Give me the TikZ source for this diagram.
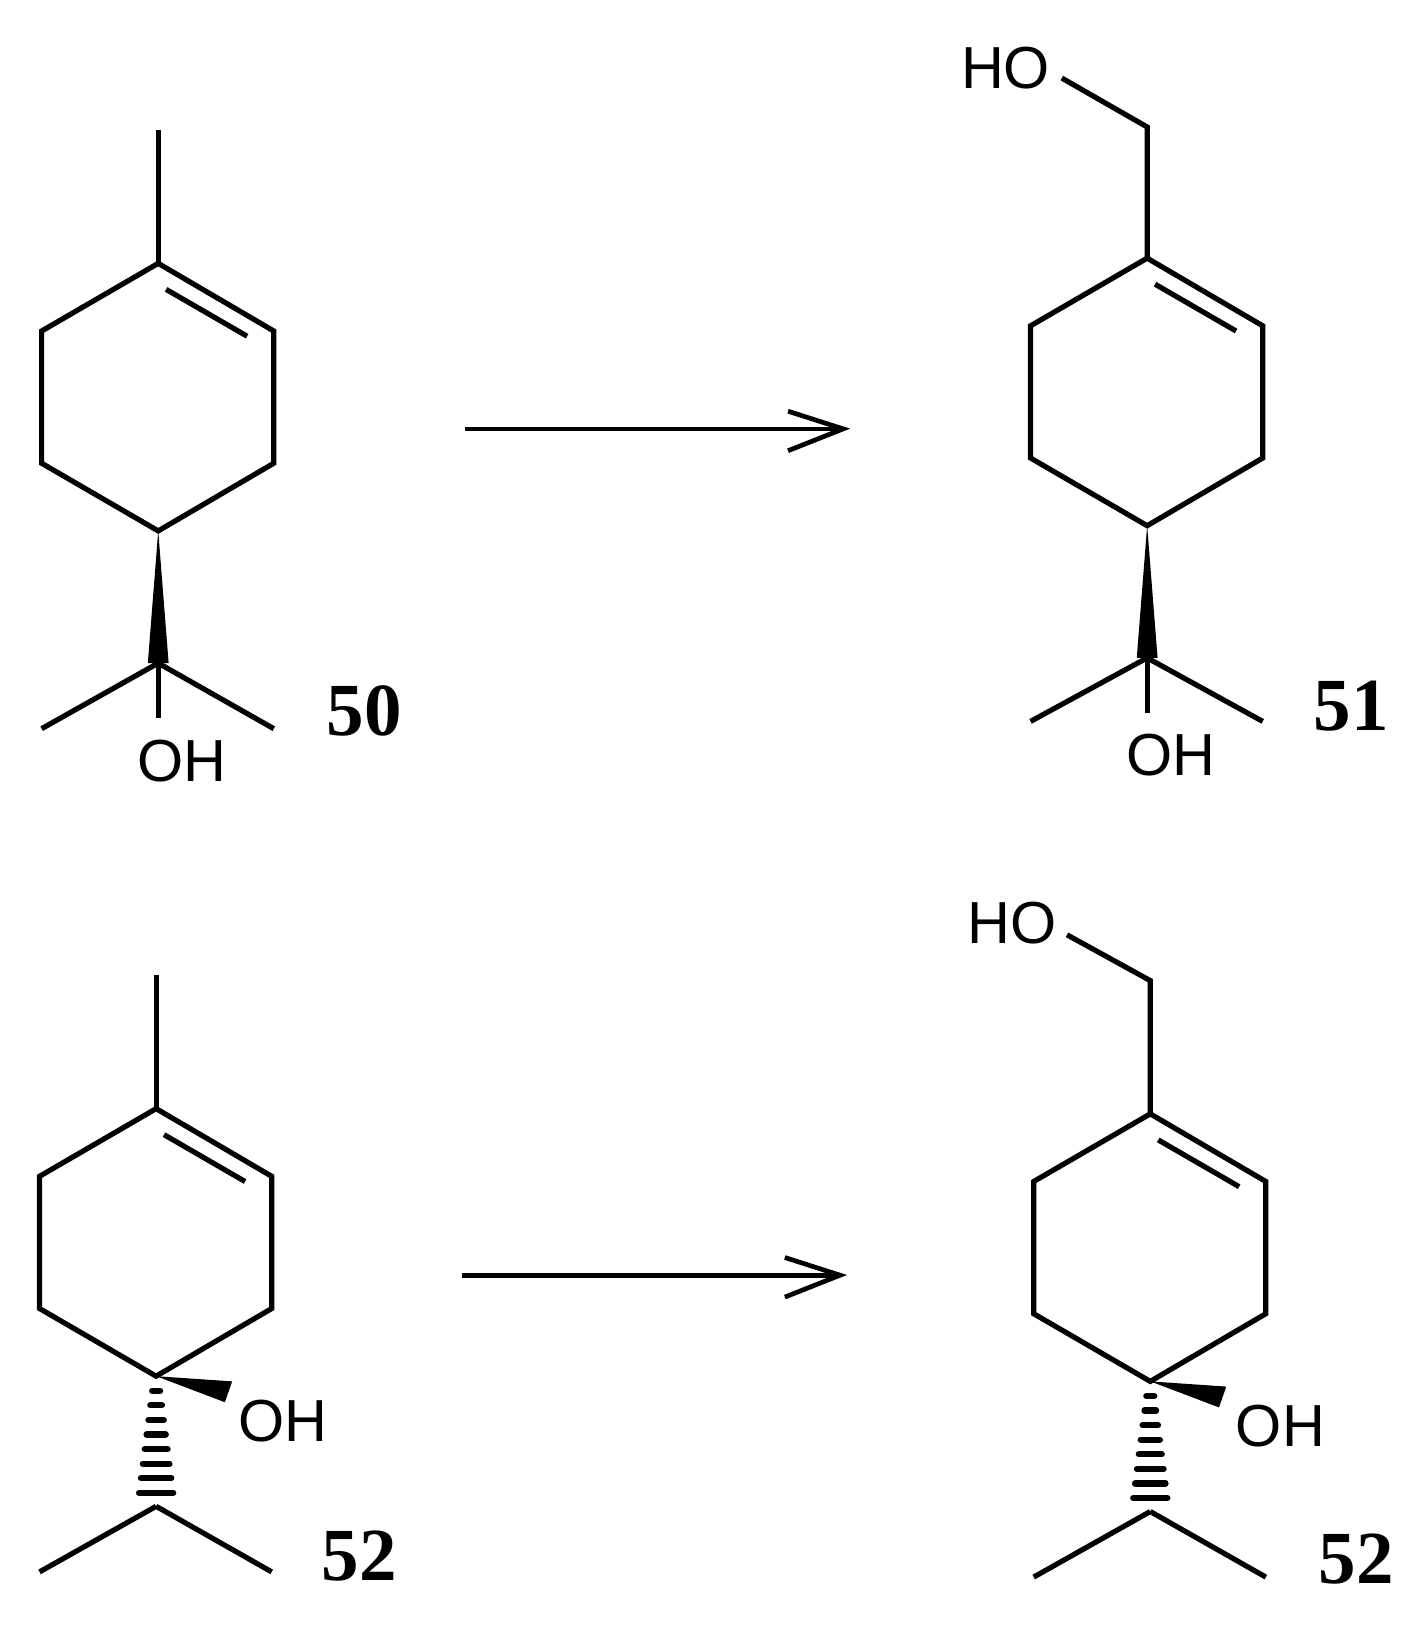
\documentclass[tikz,border=0pt]{standalone}
\usepackage{fontspec}
\setmainfont{Liberation Serif}
\newfontfamily\labfont{Liberation Sans}
\usetikzlibrary{calc}
\tikzset{bond/.style={line width=5pt,line join=miter},
 atom/.style={font=\labfont\fontsize{57}{57}\selectfont,inner sep=0pt},
 num/.style={font=\bfseries\fontsize{72}{72}\selectfont,inner sep=0pt},
 rxn/.style={line width=4.5pt}}
\newcommand{\myring}[1]{%
 \coordinate (#1c1) at (0,0); \coordinate (#1c2) at (111,65); \coordinate (#1c3) at (111,192);
 \coordinate (#1c4) at (0,257); \coordinate (#1c5) at (-112,192); \coordinate (#1c6) at (-112,65);
 \draw[bond] (#1c1)--(#1c2)--(#1c3)--(#1c4)--(#1c5)--(#1c6)--cycle;
 \draw[bond] (7.6,25)--(85.4,70);}
\begin{document}
\begin{tikzpicture}[x=1pt,y=-1pt]
\useasboundingbox (0,0) rectangle (1366,1562);
% 50
\begin{scope}[shift={(152,253)}]
 \myring{a}
 \coordinate (am) at (0,-128); \draw[bond] (ac1)--(am);
 \coordinate (aq) at (0,384);
 \fill (ac4) -- (-10,384) -- (10,384) -- cycle;
 \draw[bond] (aq)--(-112,447); \draw[bond] (aq)--(111,447); \draw[bond] (aq)--(0,437);
 \node[atom] (aoh) at (23,478) {OH};
 \node[num] (an) at (198,430) {50};
\end{scope}
% 51
\begin{scope}[shift={(1102,248)}]
 \myring{b}
 \coordinate (bm) at (0,-126); \draw[bond] (bc1)--(bm)--(-82,-173);
 \node[atom] (bho) at (-136,-183) {HO};
 \coordinate (bq) at (0,384);
 \fill (bc4) -- (-10,384) -- (10,384) -- cycle;
 \draw[bond] (bq)--(-112,445); \draw[bond] (bq)--(111,445); \draw[bond] (bq)--(0,437);
 \node[atom] (boh) at (23,477) {OH};
 \node[num] (bn) at (196,430) {51};
\end{scope}
% 52 left
\begin{scope}[shift={(150,1065)}]
 \myring{c}
 \coordinate (cm) at (0,-128); \draw[bond] (cc1)--(cm);
 \fill (cc4) -- (66,282) -- (73,262) -- cycle;
 \node[atom] (coh) at (122,300) {OH};
 \foreach \i in {1,...,8} {\draw[line width=6pt,line cap=round] ($(-2-1.8*\i,257+14*\i)$) -- ($(2+1.8*\i,257+14*\i)$);}
 \coordinate (cq) at (0,382);
 \draw[bond] (cq)--(-112,445); \draw[bond] (cq)--(111,445);
 \node[num] (cn) at (195,430) {52};
\end{scope}
% 52 right
\begin{scope}[shift={(1105,1070)}]
 \myring{d}
 \coordinate (dm) at (0,-128); \draw[bond] (dc1)--(dm)--(-80,-172);
 \node[atom] (dho) at (-133,-183) {HO};
 \fill (dc4) -- (66,282) -- (73,262) -- cycle;
 \node[atom] (doh) at (125,300) {OH};
 \foreach \i in {1,...,8} {\draw[line width=6pt,line cap=round] ($(-2-1.8*\i,257+14*\i)$) -- ($(2+1.8*\i,257+14*\i)$);}
 \coordinate (dq) at (0,382);
 \draw[bond] (dq)--(-112,445); \draw[bond] (dq)--(111,445);
 \node[num] (dn) at (198,428) {52};
\end{scope}
% arrows
\coordinate (r1a) at (447,412); \coordinate (r1b) at (810,412);
\draw[rxn] (r1a)--(r1b); \draw[rxn,line join=miter] (757,395)--(r1b)--(757,433);
\coordinate (r2a) at (444,1225); \coordinate (r2b) at (807,1225);
\draw[rxn] (r2a)--(r2b); \draw[rxn,line join=miter] (754,1208)--(r2b)--(754,1246);
\end{tikzpicture}
\end{document}
